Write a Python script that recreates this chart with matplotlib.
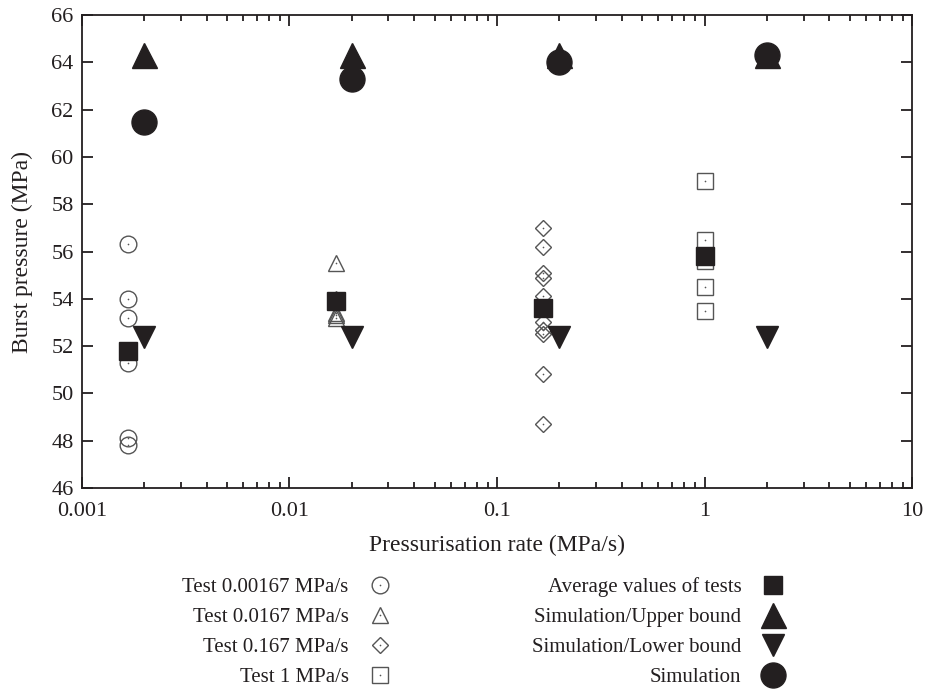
import matplotlib
matplotlib.use("Agg")
import matplotlib.pyplot as plt
from matplotlib.legend_handler import HandlerTuple
from matplotlib.ticker import LogLocator, NullFormatter, FixedLocator

plt.rcParams['font.family'] = ['Liberation Serif', 'DejaVu Serif']

# test data (MPa) per pressurisation rate
rate_a = 0.00167
test_a = [56.3, 54.0, 53.2, 51.3, 48.1, 47.8]
rate_b = 0.0167
test_b = [55.5, 54.0, 53.4, 53.3, 53.2]
rate_c = 0.167
test_c = [57.0, 56.2, 55.1, 54.9, 54.1, 53.0, 52.7, 52.5, 50.8, 48.7]
rate_d = 1.0
test_d = [59.0, 56.5, 55.6, 54.5, 53.5]

avg_rates = [0.00167, 0.0167, 0.167, 1.0]
avg_values = [51.8, 53.9, 53.6, 55.8]

sim_rates = [0.002, 0.02, 0.2, 2.0]
sim_upper = [64.3, 64.3, 64.3, 64.3]
sim_lower = [52.4, 52.4, 52.4, 52.4]
sim_values = [61.5, 63.3, 64.0, 64.3]

ink = '#231f20'
grey = '#555555'

fig = plt.figure(figsize=(9.25, 6.91), dpi=100)
ax = fig.add_axes([0.0886, 0.294, 0.8974, 0.684])

def open_series(rate, vals, marker, ms, label):
    # open marker with a small dot in the middle
    h1, = ax.plot([rate] * len(vals), vals, linestyle='none', marker=marker, ms=ms,
                  mfc='none', mec=grey, mew=1.0, zorder=3, label=label)
    h2, = ax.plot([rate] * len(vals), vals, linestyle='none', marker='o', ms=1.2,
                  mfc=grey, mec=grey, mew=0, zorder=3)
    return (h1, h2)

ha = open_series(rate_a, test_a, 'o', 12, 'Test 0.00167 MPa/s')
hb = open_series(rate_b, test_b, '^', 12, 'Test 0.0167 MPa/s')
hc = open_series(rate_c, test_c, 'D', 8.5, 'Test 0.167 MPa/s')
hd = open_series(rate_d, test_d, 's', 12, 'Test 1 MPa/s')

h_avg, = ax.plot(avg_rates, avg_values, linestyle='none', marker='s', ms=13,
                 color=ink, zorder=4)
h_up, = ax.plot(sim_rates, sim_upper, linestyle='none', marker='^', ms=18,
                color=ink, zorder=4)
h_lo, = ax.plot(sim_rates, sim_lower, linestyle='none', marker='v', ms=16.5,
                color=ink, zorder=5)
h_sim, = ax.plot(sim_rates, sim_values, linestyle='none', marker='o', ms=18,
                 color=ink, zorder=6)

ax.set_xscale('log')
ax.set_xlim(0.001, 10)
ax.set_ylim(46, 66)
ax.set_xticks([0.001, 0.01, 0.1, 1, 10])
ax.set_xticklabels(['0.001', '0.01', '0.1', '1', '10'])
ax.xaxis.set_minor_locator(LogLocator(base=10, subs=range(2, 10)))
ax.xaxis.set_minor_formatter(NullFormatter())
ax.yaxis.set_major_locator(FixedLocator(range(46, 67, 2)))

ax.tick_params(which='both', direction='in', top=True, right=True,
               colors=ink, labelsize=16, width=1.3)
ax.tick_params(which='major', length=8)
ax.tick_params(axis='y', pad=6)
ax.tick_params(axis='x', pad=10)
ax.tick_params(which='minor', length=4.5)
for s in ax.spines.values():
    s.set_linewidth(1.3)
    s.set_color(ink)

ax.set_xlabel('Pressurisation rate (MPa/s)', fontsize=17, color=ink, labelpad=10)
ax.set_ylabel('Burst pressure (MPa)', fontsize=17, color=ink, labelpad=13)

handles = [ha, hb, hc, hd, h_avg, h_up, h_lo, h_sim]
labels = ['Test 0.00167 MPa/s', 'Test 0.0167 MPa/s', 'Test 0.167 MPa/s', 'Test 1 MPa/s',
          'Average values of tests', 'Simulation/Upper bound',
          'Simulation/Lower bound', 'Simulation']
leg = fig.legend(handles, labels, ncol=2, markerfirst=False, frameon=False,
                 loc='center', bbox_to_anchor=(0.523, 0.085), fontsize=15,
                 handler_map={tuple: HandlerTuple(ndivide=1, pad=0)},
                 handlelength=1.2, handletextpad=0.9, columnspacing=6.7,
                 labelspacing=0.5)
for t in leg.get_texts():
    t.set_color(ink)

fig.savefig('out.png', dpi=100)
